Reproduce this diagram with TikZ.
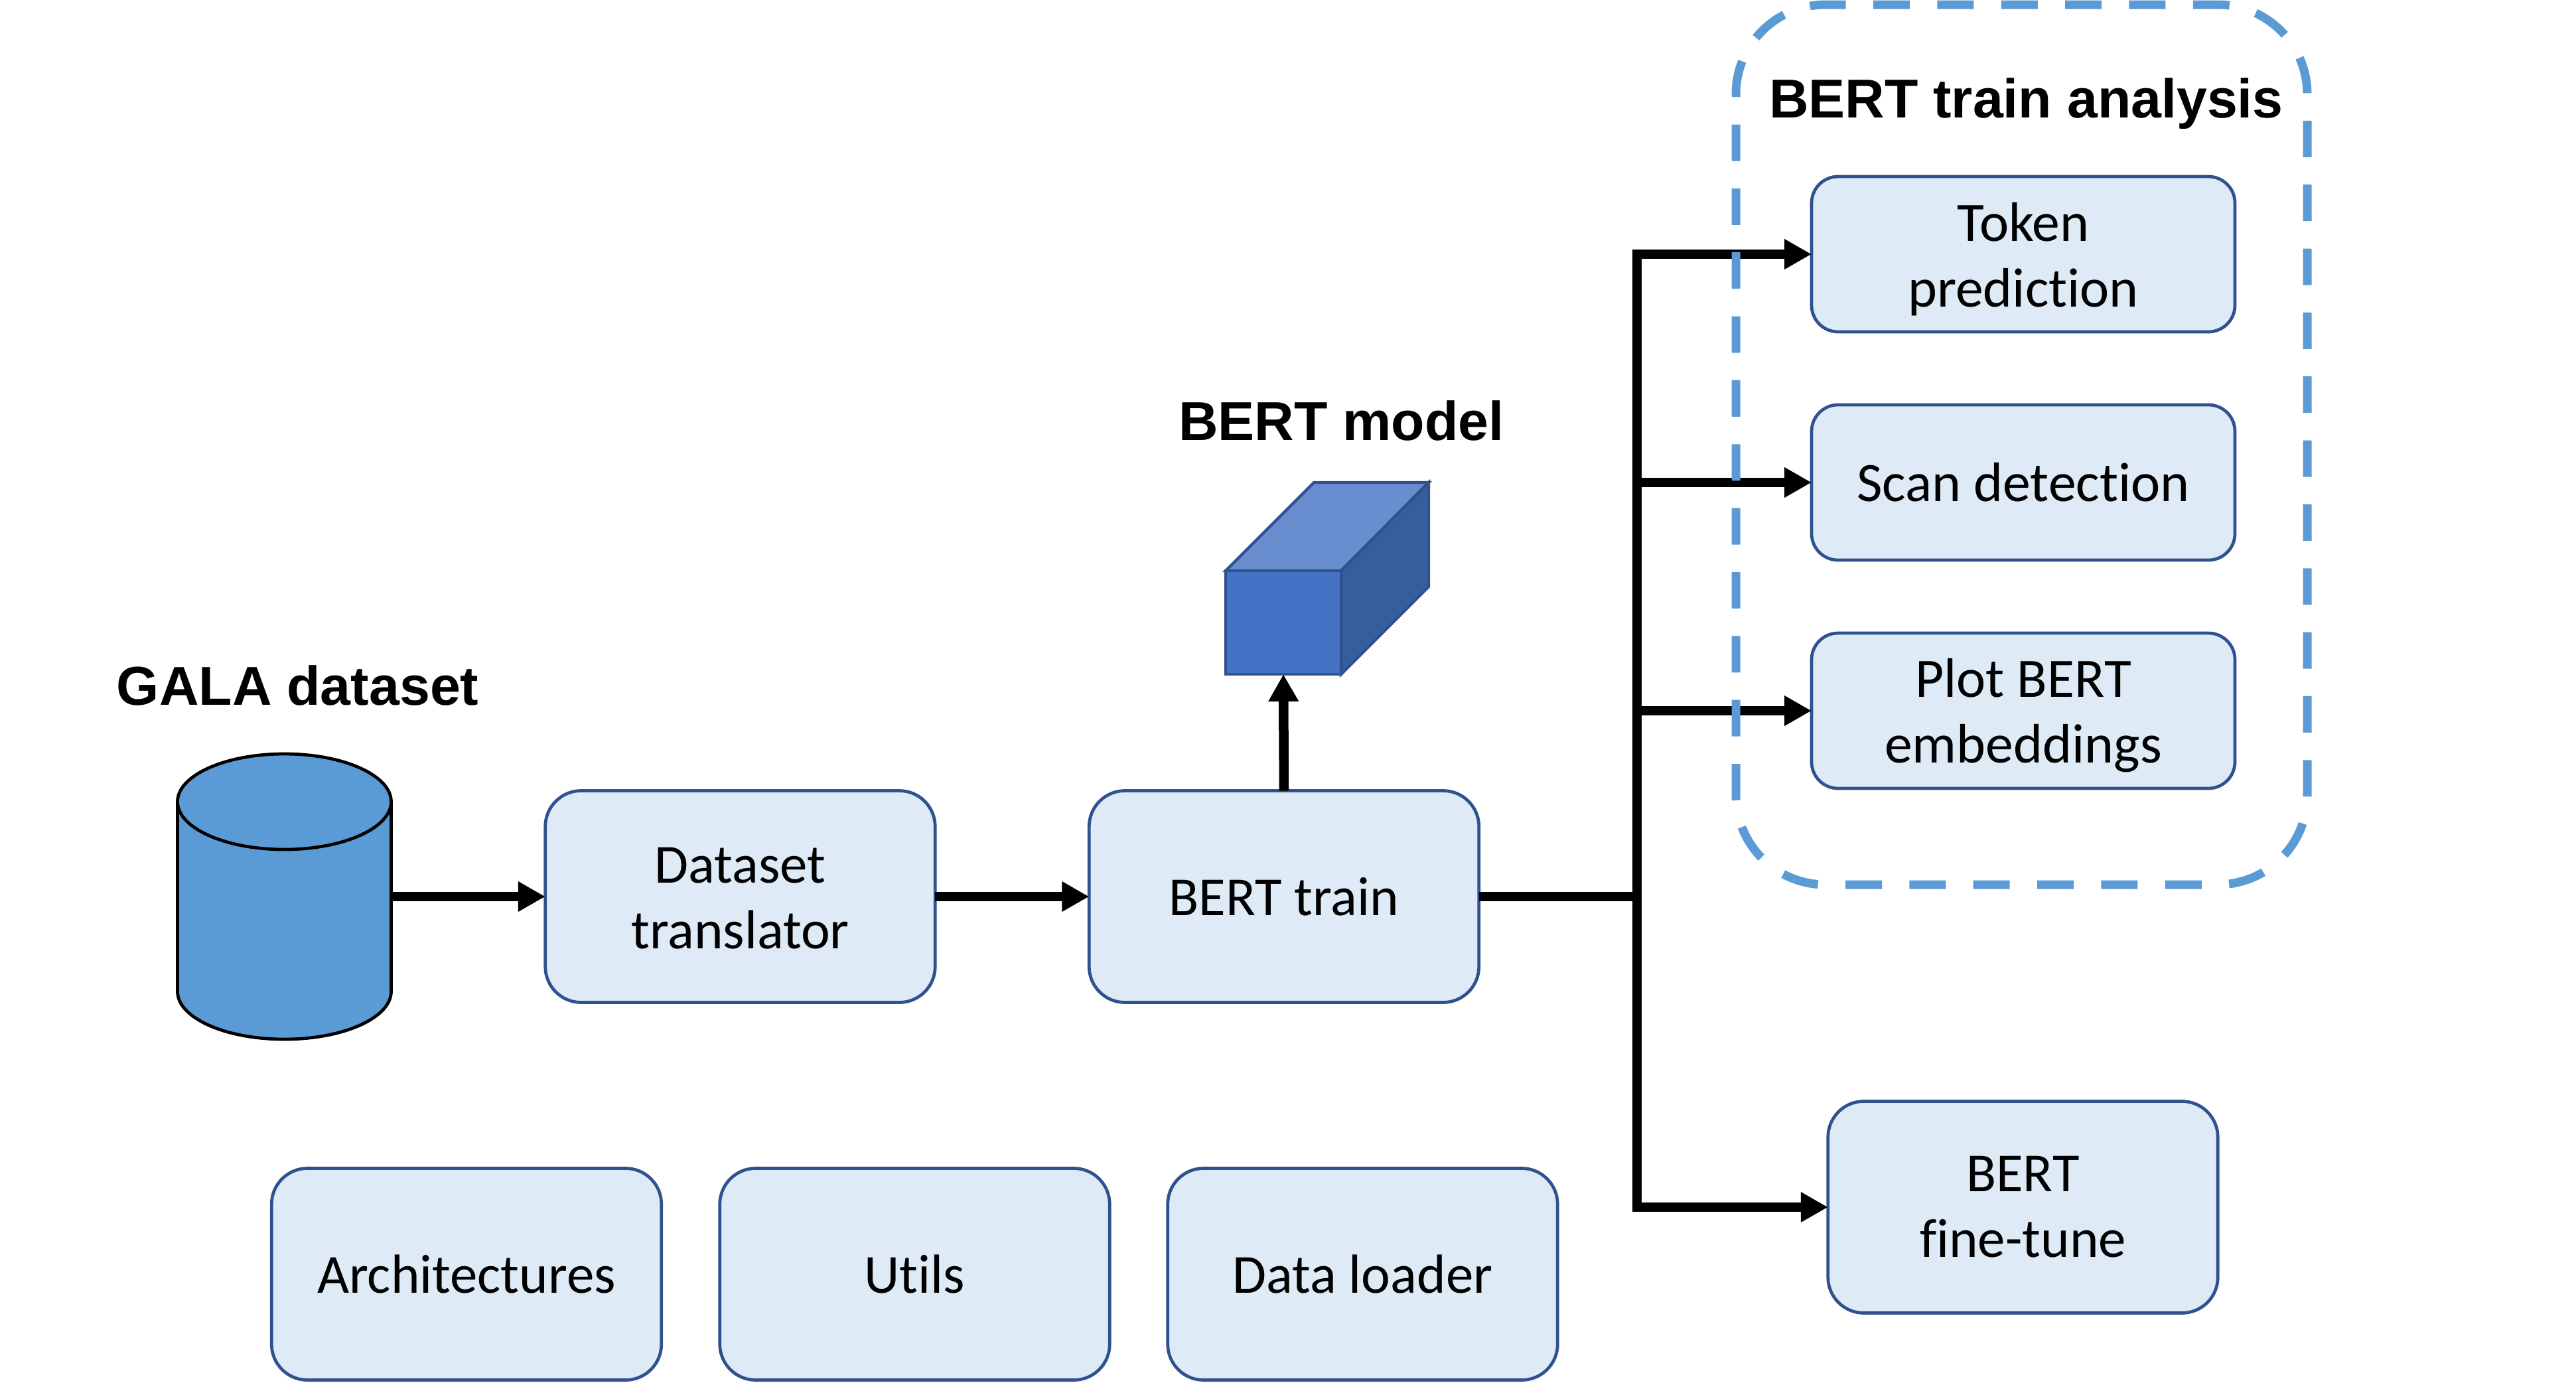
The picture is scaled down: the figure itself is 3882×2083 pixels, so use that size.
\documentclass[tikz,border=0pt]{standalone}
\usepackage{fontspec}
\setmainfont{Carlito}[Ligatures=NoCommon]
\newfontfamily\titlefont{Liberation Sans}[BoldFont={Liberation Sans Bold}]
\usetikzlibrary{arrows.meta}
\definecolor{boxfill}{HTML}{DEEAF6}
\definecolor{boxline}{HTML}{2F528F}
\definecolor{dbfill}{HTML}{5B9BD5}
\definecolor{cubefront}{HTML}{4472C4}
\definecolor{cubetop}{HTML}{698ED0}
\definecolor{cubeside}{HTML}{365E9D}
\newcommand\dropa{\rule{0pt}{14.6pt}}
\newcommand\dropb{\rule{0pt}{11.6pt}}
\tikzset{
  x=0.2pt,y=-0.2pt,
  basebox/.style={draw=boxline,fill=boxfill,line width=0.95pt,align=center,inner sep=0pt,outer sep=0pt,
    font=\fontsize{16.6pt}{19.8pt}\selectfont,text=black},
  bigbox/.style={basebox,rounded corners=10.8pt,minimum width=117.5pt,minimum height=63.8pt},
  smallbox/.style={basebox,rounded corners=8pt,minimum width=127.6pt,minimum height=46.8pt,font=\fontsize{16.75pt}{19.8pt}\selectfont},
  titletext/.style={anchor=base west,inner sep=0pt,outer sep=0pt,font=\titlefont\bfseries\fontsize{16.5pt}{19pt}\selectfont},
  conn/.style={line width=2.9pt,draw=black},
  arr/.style={conn,-{Triangle[length=8.2pt,width=8.6pt]}},
  branch/.style={arr,line width=2.7pt},
  groupline/.style={draw=dbfill,line width=2.6pt,dash pattern=on 11pt off 8.27pt,dash phase=4.86pt},
  cubeline/.style={draw=boxline,line width=0.85pt,line join=miter},
  dbline/.style={draw=black,line width=0.95pt,fill=dbfill}
}
\begin{document}
\begin{tikzpicture}
\useasboundingbox (0,0) rectangle (3882,2083);

% cylinder
\draw[dbline] (267.5,1208) -- (267.5,1494) arc (180:0:161 and 72) -- (589.5,1208) -- cycle;
\draw[dbline] (428.5,1208) ellipse [x radius=161,y radius=72];
\node[inner sep=0pt,outer sep=0pt,minimum width=64.4pt,minimum height=86.2pt] (db) at (428.5,1351) {};

% boxes
\node[bigbox] (translator) at (1115.5,1351) {\dropb Dataset\\translator};
\node[bigbox] (train) at (1935,1351) {BERT train};
\node[bigbox] (arch) at (703,1920) {Architectures};
\node[bigbox] (utils) at (1378.5,1920) {Utils};
\node[bigbox] (loader) at (2053.5,1920) {Data loader};
\node[bigbox] (fine) at (3048.5,1819) {BERT\\fine-tune};
\node[smallbox] (token) at (3049,383) {\dropa Token\\prediction};
\node[smallbox] (scan) at (3049,727) {Scan detection};
\node[smallbox] (plot) at (3049,1071) {\dropa Plot BERT\\embeddings};

% cuboid
\draw[cubeline,fill=cubetop] (1847,860) -- (1980,727) -- (2153,727) -- (2021,860) -- cycle;
\draw[cubeline,fill=cubeside] (2021,860) -- (2153,727) -- (2153,884) -- (2021,1016) -- cycle;
\node[cubeline,fill=cubefront,inner sep=0pt,outer sep=0pt,minimum width=34.8pt,minimum height=31.2pt] (model) at (1934,938) {};

% titles
\node[titletext] (gala) at (176,1062) {GALA dataset};
\node[titletext] (berttitle) at (1776,663) {BERT model};
\node[titletext] (analysis) at (2666,177) {BERT train analysis};

% connectors
\coordinate (junction) at (2467,1351);
\draw[arr] (db.east) -- (translator.west);
\draw[arr] (translator.east) -- (train.west);
\draw[arr] (train.north) -- (model.south);
\draw[conn] (train.east) -- (junction);
\draw[branch] (junction) |- (token.west);
\draw[branch] (junction |- scan.west) -- (scan.west);
\draw[branch] (junction |- plot.west) -- (plot.west);
\draw[arr] (junction) |- (fine.west);

% dashed group
\draw[groupline] (2751,7) -- (3342,7) arc (-90:0:135) -- (3477,1198) arc (0:90:135)
  -- (2751,1333) arc (90:180:135) -- (2616,142) arc (180:270:135) -- cycle;
\end{tikzpicture}
\end{document}
